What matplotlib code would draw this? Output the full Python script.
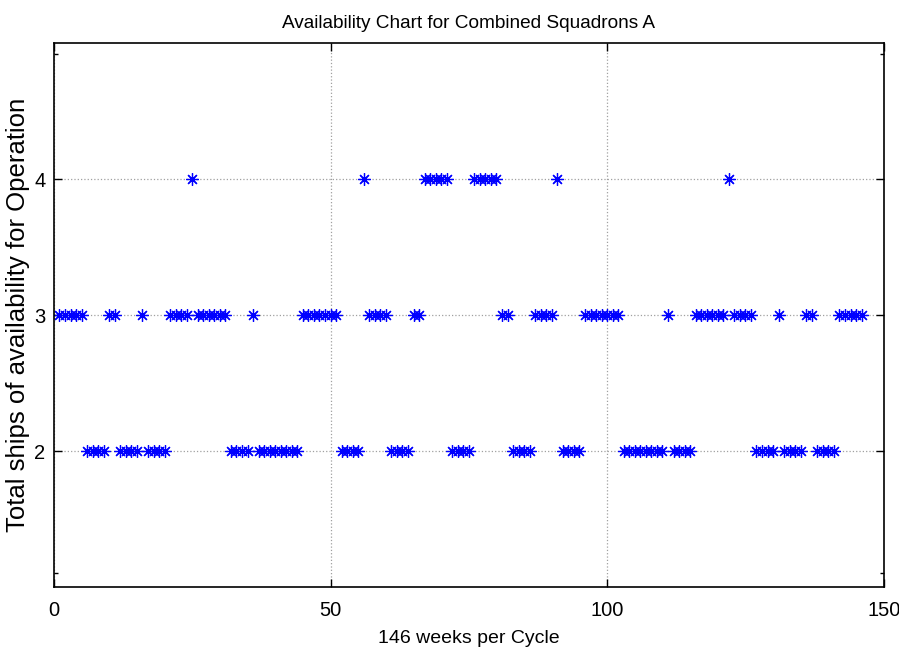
import matplotlib.pyplot as plt
from matplotlib.ticker import FixedLocator

# week-by-week number of ships available (weeks 1..146)
weeks = list(range(1, 147))
ships = [
    3, 3, 3, 3, 3, 2, 2, 2, 2, 3,
    3, 2, 2, 2, 2, 3, 2, 2, 2, 2,
    3, 3, 3, 3, 4, 3, 3, 3, 3, 3,
    3, 2, 2, 2, 2, 3, 2, 2, 2, 2,
    2, 2, 2, 2, 3, 3, 3, 3, 3, 3,
    3, 2, 2, 2, 2, 4, 3, 3, 3, 3,
    2, 2, 2, 2, 3, 3, 4, 4, 4, 4,
    4, 2, 2, 2, 2, 4, 4, 4, 4, 4,
    3, 3, 2, 2, 2, 2, 3, 3, 3, 3,
    4, 2, 2, 2, 2, 3, 3, 3, 3, 3,
    3, 3, 2, 2, 2, 2, 2, 2, 2, 2,
    3, 2, 2, 2, 2, 3, 3, 3, 3, 3,
    3, 4, 3, 3, 3, 3, 2, 2, 2, 2,
    3, 2, 2, 2, 2, 3, 3, 2, 2, 2,
    2, 3, 3, 3, 3, 3,
]

x_ticks = [0, 50, 100, 150]
y_ticks = [2, 3, 4]

font = ["Liberation Sans", "DejaVu Sans"]

fig = plt.figure(figsize=(8.99, 6.66), dpi=100)
ax = fig.add_axes([0.060, 0.1186, 0.923, 0.8168])

ax.plot(weeks, ships, linestyle="none", marker=(8, 2, 0), markersize=9,
        markeredgewidth=0.9, color="#0000ff")

ax.set_xlim(0, 150)
ax.set_ylim(1, 5)
ax.set_xticks(x_ticks)
ax.set_yticks(y_ticks)
ax.yaxis.set_minor_locator(FixedLocator([1.1, 4.92]))
ax.grid(True, which="major", color="#a0a0a0", linestyle=":", linewidth=0.9)
ax.set_axisbelow(True)

ax.tick_params(which="both", direction="in", top=True, right=True,
               color="black", width=1.0)
ax.tick_params(which="major", length=6)
ax.tick_params(axis="x", which="major", pad=10)
ax.tick_params(axis="y", which="major", pad=6)
ax.tick_params(which="minor", length=3)
for lab in ax.get_xticklabels() + ax.get_yticklabels():
    lab.set_family(font)
    lab.set_fontsize(14.5)

for sp in ax.spines.values():
    sp.set_linewidth(1.2)
    sp.set_color("black")

ax.set_title("Availability Chart for Combined Squadrons A", family=font,
             fontsize=13.7, pad=11)
ax.set_xlabel("146 weeks per Cycle", family=font, fontsize=14, labelpad=7)
ax.set_ylabel("Total ships of availability for Operation", family=font,
              fontsize=18.5)
ax.yaxis.set_label_coords(-0.029, 0.5)

fig.savefig("out.png", dpi=100)
